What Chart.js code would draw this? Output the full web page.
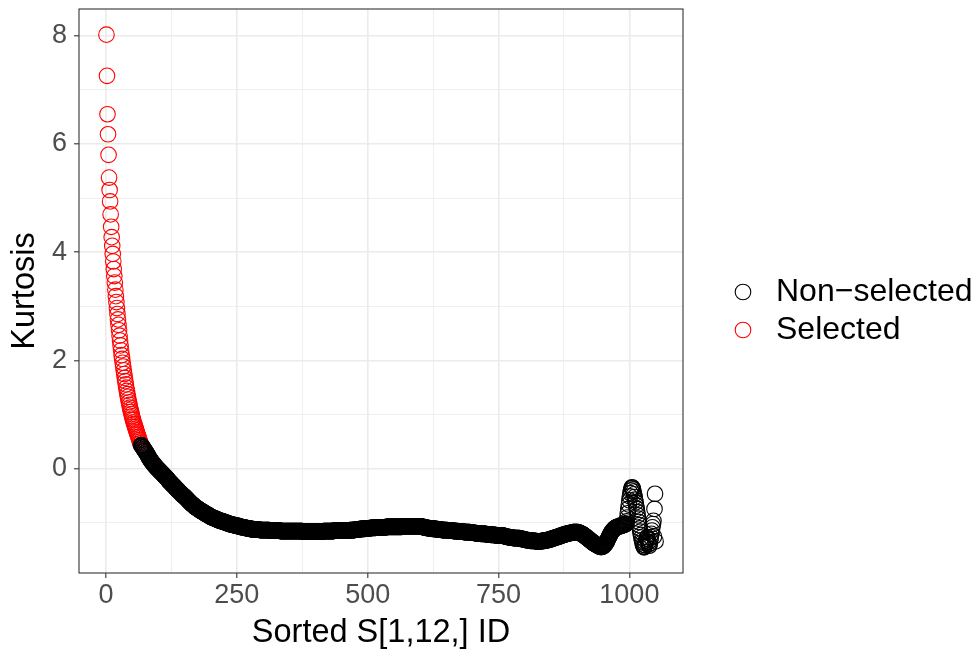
<!DOCTYPE html>
<html>
<head>
<meta charset="utf-8">
<title>Kurtosis by sorted ID</title>
<script src="https://cdn.jsdelivr.net/npm/chart.js@4.4.1/dist/chart.umd.min.js"></script>
<style>
  html, body { margin: 0; padding: 0; background: #ffffff; }
  #wrap { width: 974px; height: 650px; }
</style>
</head>
<body>
<div id="wrap"><canvas id="kurt-chart" width="974" height="650"></canvas></div>
<script>
// kurtosis values in sorted-ID order; the first ones are the selected components
var selectedKurtosis = [
  8.02, 7.26, 6.55, 6.18, 5.80, 5.38, 5.15, 4.94, 4.70, 4.47,
  4.28, 4.12, 3.97, 3.83, 3.69, 3.56, 3.44, 3.31, 3.19, 3.08,
  2.97, 2.86, 2.76, 2.66, 2.56, 2.46, 2.37, 2.28, 2.19, 2.10,
  2.03, 1.96, 1.89, 1.82, 1.75, 1.68, 1.62, 1.56, 1.50, 1.44,
  1.38, 1.33, 1.28, 1.23, 1.18, 1.13, 1.09, 1.05, 1.01, 0.97,
  0.93, 0.90, 0.86, 0.83, 0.80, 0.77, 0.74, 0.71, 0.68, 0.65,
  0.62, 0.59, 0.56, 0.53, 0.50, 0.47
];

// the remaining (non-selected) components, IDs continue after the selected ones
var nonSelectedKurtosis = [
  0.44, 0.43, 0.42, 0.40,
  0.39, 0.37, 0.36, 0.34, 0.33, 0.31, 0.30, 0.28, 0.27, 0.25,
  0.23, 0.21, 0.20, 0.18, 0.16, 0.15, 0.14, 0.13, 0.11, 0.10,
  0.09, 0.08, 0.06, 0.05, 0.04, 0.03, 0.02, 0.01, 0.00, -0.01,
  -0.02, -0.03, -0.04, -0.05, -0.06, -0.07, -0.08, -0.09, -0.10, -0.11,
  -0.12, -0.13, -0.14, -0.15, -0.16, -0.17, -0.18, -0.19, -0.21, -0.22,
  -0.23, -0.24, -0.25, -0.26, -0.27, -0.28, -0.29, -0.30, -0.31, -0.32,
  -0.33, -0.34, -0.35, -0.36, -0.37, -0.38, -0.39, -0.40, -0.41, -0.42,
  -0.43, -0.44, -0.45, -0.46, -0.47, -0.48, -0.49, -0.50, -0.50, -0.51,
  -0.52, -0.53, -0.54, -0.55, -0.56, -0.57, -0.58, -0.59, -0.60, -0.61,
  -0.62, -0.63, -0.64, -0.65, -0.66, -0.66, -0.67, -0.68, -0.69, -0.70,
  -0.71, -0.71, -0.72, -0.73, -0.73, -0.74, -0.75, -0.75, -0.76, -0.77,
  -0.77, -0.78, -0.78, -0.79, -0.80, -0.80, -0.81, -0.81, -0.82, -0.83,
  -0.83, -0.84, -0.84, -0.85, -0.85, -0.86, -0.86, -0.87, -0.88, -0.88,
  -0.89, -0.89, -0.90, -0.90, -0.91, -0.91, -0.91, -0.92, -0.92, -0.93,
  -0.93, -0.93, -0.94, -0.94, -0.95, -0.95, -0.95, -0.96, -0.96, -0.96,
  -0.97, -0.97, -0.97, -0.98, -0.98, -0.98, -0.99, -0.99, -0.99, -1.00,
  -1.00, -1.00, -1.01, -1.01, -1.01, -1.02, -1.02, -1.02, -1.03, -1.03,
  -1.03, -1.03, -1.04, -1.04, -1.04, -1.04, -1.05, -1.05, -1.05, -1.05,
  -1.05, -1.06, -1.06, -1.06, -1.06, -1.07, -1.07, -1.07, -1.07, -1.08,
  -1.08, -1.08, -1.08, -1.08, -1.09, -1.09, -1.09, -1.09, -1.10, -1.10,
  -1.10, -1.10, -1.10, -1.11, -1.11, -1.11, -1.11, -1.11, -1.11, -1.12,
  -1.12, -1.12, -1.12, -1.12, -1.12, -1.12, -1.12, -1.12, -1.12, -1.12,
  -1.12, -1.12, -1.12, -1.13, -1.13, -1.13, -1.13, -1.13, -1.13, -1.13,
  -1.13, -1.13, -1.13, -1.13, -1.13, -1.13, -1.13, -1.13, -1.13, -1.13,
  -1.13, -1.13, -1.14, -1.14, -1.14, -1.14, -1.14, -1.14, -1.14, -1.14,
  -1.14, -1.14, -1.14, -1.14, -1.14, -1.14, -1.14, -1.14, -1.14, -1.14,
  -1.14, -1.14, -1.15, -1.15, -1.15, -1.15, -1.15, -1.15, -1.15, -1.15,
  -1.15, -1.15, -1.15, -1.15, -1.15, -1.15, -1.15, -1.15, -1.15, -1.15,
  -1.15, -1.15, -1.15, -1.15, -1.15, -1.15, -1.15, -1.15, -1.15, -1.15,
  -1.15, -1.15, -1.15, -1.15, -1.15, -1.15, -1.15, -1.15, -1.15, -1.15,
  -1.15, -1.15, -1.15, -1.15, -1.15, -1.16, -1.16, -1.16, -1.16, -1.16,
  -1.16, -1.16, -1.16, -1.16, -1.16, -1.16, -1.16, -1.16, -1.16, -1.16,
  -1.16, -1.16, -1.16, -1.16, -1.16, -1.16, -1.16, -1.16, -1.16, -1.16,
  -1.16, -1.16, -1.16, -1.16, -1.16, -1.16, -1.16, -1.16, -1.16, -1.16,
  -1.16, -1.16, -1.16, -1.16, -1.16, -1.15, -1.15, -1.15, -1.15, -1.15,
  -1.15, -1.15, -1.15, -1.15, -1.15, -1.15, -1.15, -1.15, -1.15, -1.15,
  -1.15, -1.15, -1.15, -1.15, -1.15, -1.14, -1.14, -1.14, -1.14, -1.14,
  -1.14, -1.14, -1.14, -1.14, -1.14, -1.14, -1.14, -1.14, -1.14, -1.14,
  -1.14, -1.14, -1.14, -1.14, -1.14, -1.14, -1.14, -1.14, -1.14, -1.14,
  -1.14, -1.14, -1.14, -1.14, -1.14, -1.13, -1.13, -1.13, -1.13, -1.13,
  -1.13, -1.13, -1.13, -1.13, -1.13, -1.12, -1.12, -1.12, -1.12, -1.12,
  -1.12, -1.12, -1.12, -1.12, -1.12, -1.11, -1.11, -1.11, -1.11, -1.11,
  -1.11, -1.11, -1.11, -1.11, -1.11, -1.10, -1.10, -1.10, -1.10, -1.10,
  -1.10, -1.10, -1.10, -1.10, -1.10, -1.09, -1.09, -1.09, -1.09, -1.09,
  -1.09, -1.09, -1.09, -1.09, -1.09, -1.08, -1.08, -1.08, -1.08, -1.08,
  -1.08, -1.08, -1.08, -1.08, -1.08, -1.08, -1.08, -1.08, -1.08, -1.08,
  -1.08, -1.08, -1.08, -1.08, -1.08, -1.07, -1.07, -1.07, -1.07, -1.07,
  -1.07, -1.07, -1.07, -1.07, -1.07, -1.07, -1.07, -1.07, -1.07, -1.07,
  -1.07, -1.07, -1.07, -1.07, -1.07, -1.07, -1.07, -1.07, -1.07, -1.07,
  -1.07, -1.07, -1.07, -1.07, -1.07, -1.06, -1.06, -1.06, -1.06, -1.06,
  -1.06, -1.06, -1.06, -1.06, -1.06, -1.06, -1.06, -1.06, -1.06, -1.06,
  -1.06, -1.06, -1.06, -1.06, -1.06, -1.06, -1.06, -1.06, -1.06, -1.06,
  -1.06, -1.06, -1.06, -1.06, -1.06, -1.06, -1.06, -1.06, -1.06, -1.06,
  -1.06, -1.06, -1.07, -1.07, -1.07, -1.07, -1.08, -1.08, -1.08, -1.08,
  -1.09, -1.09, -1.09, -1.09, -1.09, -1.10, -1.10, -1.10, -1.10, -1.10,
  -1.10, -1.10, -1.11, -1.11, -1.11, -1.11, -1.11, -1.11, -1.11, -1.11,
  -1.11, -1.12, -1.12, -1.12, -1.12, -1.12, -1.12, -1.12, -1.12, -1.12,
  -1.12, -1.13, -1.13, -1.13, -1.13, -1.13, -1.13, -1.13, -1.13, -1.13,
  -1.13, -1.13, -1.14, -1.14, -1.14, -1.14, -1.14, -1.14, -1.14, -1.14,
  -1.14, -1.14, -1.14, -1.15, -1.15, -1.15, -1.15, -1.15, -1.15, -1.15,
  -1.15, -1.15, -1.16, -1.16, -1.16, -1.16, -1.16, -1.16, -1.16, -1.16,
  -1.16, -1.16, -1.16, -1.17, -1.17, -1.17, -1.17, -1.17, -1.17, -1.17,
  -1.17, -1.17, -1.17, -1.17, -1.17, -1.18, -1.18, -1.18, -1.18, -1.18,
  -1.18, -1.18, -1.18, -1.18, -1.18, -1.19, -1.19, -1.19, -1.19, -1.19,
  -1.19, -1.19, -1.19, -1.19, -1.19, -1.20, -1.20, -1.20, -1.20, -1.20,
  -1.20, -1.20, -1.20, -1.20, -1.20, -1.21, -1.21, -1.21, -1.21, -1.21,
  -1.21, -1.21, -1.21, -1.21, -1.22, -1.22, -1.22, -1.22, -1.22, -1.22,
  -1.22, -1.22, -1.22, -1.23, -1.23, -1.23, -1.23, -1.23, -1.23, -1.23,
  -1.23, -1.23, -1.23, -1.23, -1.23, -1.23, -1.23, -1.23, -1.24, -1.24,
  -1.24, -1.24, -1.25, -1.25, -1.25, -1.25, -1.26, -1.26, -1.26, -1.26,
  -1.26, -1.27, -1.27, -1.27, -1.27, -1.27, -1.27, -1.28, -1.28, -1.28,
  -1.28, -1.28, -1.28, -1.28, -1.28, -1.28, -1.28, -1.28, -1.28, -1.28,
  -1.29, -1.29, -1.29, -1.29, -1.30, -1.30, -1.30, -1.30, -1.30, -1.31,
  -1.31, -1.31, -1.31, -1.31, -1.32, -1.32, -1.32, -1.32, -1.32, -1.32,
  -1.33, -1.33, -1.33, -1.33, -1.33, -1.33, -1.33, -1.33, -1.33, -1.33,
  -1.34, -1.34, -1.34, -1.34, -1.34, -1.34, -1.34, -1.34, -1.34, -1.34,
  -1.34, -1.34, -1.33, -1.33, -1.33, -1.33, -1.33, -1.33, -1.32, -1.32,
  -1.32, -1.32, -1.32, -1.31, -1.31, -1.31, -1.31, -1.30, -1.30, -1.30,
  -1.30, -1.29, -1.29, -1.29, -1.28, -1.28, -1.28, -1.27, -1.27, -1.27,
  -1.26, -1.26, -1.26, -1.25, -1.25, -1.25, -1.24, -1.24, -1.24, -1.23,
  -1.23, -1.23, -1.22, -1.22, -1.22, -1.21, -1.21, -1.21, -1.20, -1.20,
  -1.20, -1.20, -1.19, -1.19, -1.19, -1.19, -1.18, -1.18, -1.18, -1.18,
  -1.18, -1.17, -1.17, -1.17, -1.17, -1.17, -1.17, -1.17, -1.17, -1.17,
  -1.17, -1.17, -1.18, -1.18, -1.18, -1.19, -1.19, -1.20, -1.20, -1.21,
  -1.21, -1.22, -1.23, -1.23, -1.24, -1.25, -1.26, -1.26, -1.27, -1.28,
  -1.29, -1.29, -1.30, -1.31, -1.32, -1.33, -1.33, -1.34, -1.35, -1.36,
  -1.36, -1.37, -1.38, -1.38, -1.39, -1.40, -1.40, -1.41, -1.41, -1.42,
  -1.42, -1.43, -1.43, -1.44, -1.44, -1.44, -1.44, -1.44, -1.43, -1.43,
  -1.42, -1.41, -1.40, -1.39, -1.37, -1.36, -1.34, -1.32, -1.30, -1.28,
  -1.26, -1.24, -1.22, -1.20, -1.18, -1.17, -1.15, -1.14, -1.13, -1.12,
  -1.11, -1.10, -1.09, -1.09, -1.08, -1.08, -1.07, -1.07, -1.07, -1.06,
  -1.06, -1.06, -1.05, -1.05, -1.05, -1.05, -1.04, -1.04, -1.04, -1.03,
  -1.03, -1.02, -1.02, -1.01, -0.97, -0.90, -0.82, -0.74, -0.66, -0.58,
  -0.51, -0.45, -0.40, -0.36, -0.34, -0.35, -0.38, -0.42, -0.47, -0.52,
  -0.57, -0.62, -0.68, -0.74, -0.80, -0.86, -0.92, -0.98, -1.04, -1.10,
  -1.16, -1.22, -1.27, -1.32, -1.36, -1.40, -1.43, -1.45, -1.44, -1.41,
  -1.37, -1.33, -1.29, -1.26, -1.30, -1.35, -1.39, -1.42, -1.38, -1.32,
  -1.26, -1.20, -1.14, -1.08, -1.02, -0.96, -1.25, -0.74, -0.46, -1.34
];

var xMajorTicks = [0, 250, 500, 750, 1000];
var xMinorTicks = [125, 375, 625, 875];
var yMajorTicks = [0, 2, 4, 6, 8];
var yMinorTicks = [-1, 1, 3, 5, 7];

var xAxisTitle = "Sorted S[1,12,] ID";
var yAxisTitle = "Kurtosis";
var seriesNames = ["Non\u2212selected", "Selected"];

Chart.defaults.font.family = "'Liberation Sans', Arial, Helvetica, sans-serif";

// points get their ID from their position in the sorted order
var selectedPoints = selectedKurtosis.map(function(k, i) {
  return { x: i + 1, y: k };
});
var nonSelectedPoints = nonSelectedKurtosis.map(function(k, i) {
  return { x: selectedKurtosis.length + i + 1, y: k };
});

// ggplot-style 5% padding around the data range
var allIds = selectedKurtosis.length + nonSelectedKurtosis.length;
var allK = selectedKurtosis.concat(nonSelectedKurtosis);
var kMin = Math.min.apply(null, allK);
var kMax = Math.max.apply(null, allK);
var xPad = (allIds - 1) * 0.05;
var yPad = (kMax - kMin) * 0.05;

function isMajor(list, v) {
  return list.indexOf(v) !== -1;
}

function setTicks(major, minor) {
  return function(scale) {
    scale.ticks = major.concat(minor).sort(function(a, b) { return a - b; })
      .map(function(v) { return { value: v }; });
  };
}

function gridFor(major) {
  return {
    color: "#EBEBEB",
    lineWidth: function(ctx) { return ctx.tick && isMajor(major, ctx.tick.value) ? 1.6 : 0.8; },
    tickLength: 5,
    tickWidth: 1.1,
    tickColor: function(ctx) { return ctx.tick && isMajor(major, ctx.tick.value) ? "#333333" : "rgba(0,0,0,0)"; }
  };
}

// panel border drawn over the points, like theme_bw
var panelBorder = {
  id: "panelBorder",
  afterDraw: function(chart) {
    var a = chart.chartArea;
    var ctx = chart.ctx;
    ctx.save();
    ctx.strokeStyle = "#333333";
    ctx.lineWidth = 1.1;
    ctx.strokeRect(a.left, a.top, a.right - a.left, a.bottom - a.top);
    ctx.restore();
  }
};

// legend to the right of the panel, hollow circle keys
var sideLegend = {
  id: "sideLegend",
  afterDraw: function(chart) {
    var ctx = chart.ctx;
    var a = chart.chartArea;
    ctx.save();
    ctx.font = "32px 'Liberation Sans', Arial, Helvetica, sans-serif";
    ctx.textAlign = "left";
    ctx.textBaseline = "middle";
    ctx.lineWidth = 1.1;
    chart.data.datasets.forEach(function(ds, i) {
      var y = 292 + i * 38;
      ctx.beginPath();
      ctx.arc(a.right + 60, y, 7.8, 0, Math.PI * 2);
      ctx.strokeStyle = ds.pointBorderColor;
      ctx.stroke();
      ctx.fillStyle = "#000000";
      ctx.fillText(ds.label, a.right + 93, y);
    });
    ctx.restore();
  }
};

var kurtChart = new Chart(document.getElementById("kurt-chart").getContext("2d"), {
  type: "scatter",
  data: {
    datasets: [{
      label: seriesNames[0],
      data: nonSelectedPoints,
      pointRadius: 7.8,
      pointHoverRadius: 7.8,
      pointBorderWidth: 1.1,
      pointBorderColor: "#000000",
      pointBackgroundColor: "rgba(0,0,0,0)"
    }, {
      label: seriesNames[1],
      data: selectedPoints,
      pointRadius: 7.8,
      pointHoverRadius: 7.8,
      pointBorderWidth: 1.1,
      pointBorderColor: "#FF0000",
      pointBackgroundColor: "rgba(0,0,0,0)"
    }]
  },
  options: {
    responsive: false,
    animation: false,
    events: [],
    layout: { padding: { left: 0, right: 291, top: 9, bottom: 0 } },
    plugins: {
      legend: { display: false },
      tooltip: { enabled: false }
    },
    scales: {
      x: {
        type: "linear",
        min: 1 - xPad,
        max: allIds + xPad,
        afterBuildTicks: setTicks(xMajorTicks, xMinorTicks),
        afterFit: function(scale) {
          scale.height = 77;
          scale.paddingLeft = 0;
          scale.paddingRight = 0;
        },
        border: { display: false },
        grid: gridFor(xMajorTicks),
        ticks: {
          autoSkip: false,
          maxRotation: 0,
          padding: 1,
          color: "#4D4D4D",
          font: { size: 27 },
          callback: function(v) { return isMajor(xMajorTicks, v) ? String(v) : ""; }
        },
        title: {
          display: true,
          text: xAxisTitle,
          color: "#000000",
          font: { size: 32.5, lineHeight: 1 },
          padding: { top: 0, bottom: 1 }
        }
      },
      y: {
        type: "linear",
        min: kMin - yPad,
        max: kMax + yPad,
        afterBuildTicks: setTicks(yMajorTicks, yMinorTicks),
        afterFit: function(scale) {
          scale.width = 79;
          scale.paddingTop = 0;
          scale.paddingBottom = 0;
        },
        border: { display: false },
        grid: gridFor(yMajorTicks),
        ticks: {
          autoSkip: false,
          padding: 7,
          color: "#4D4D4D",
          font: { size: 27 },
          callback: function(v) { return isMajor(yMajorTicks, v) ? String(v) : ""; }
        },
        title: {
          display: true,
          text: yAxisTitle,
          color: "#000000",
          font: { size: 32.5, lineHeight: 1 },
          padding: { top: 9, bottom: 0 }
        }
      }
    }
  },
  plugins: [panelBorder, sideLegend]
});
</script>
</body>
</html>
